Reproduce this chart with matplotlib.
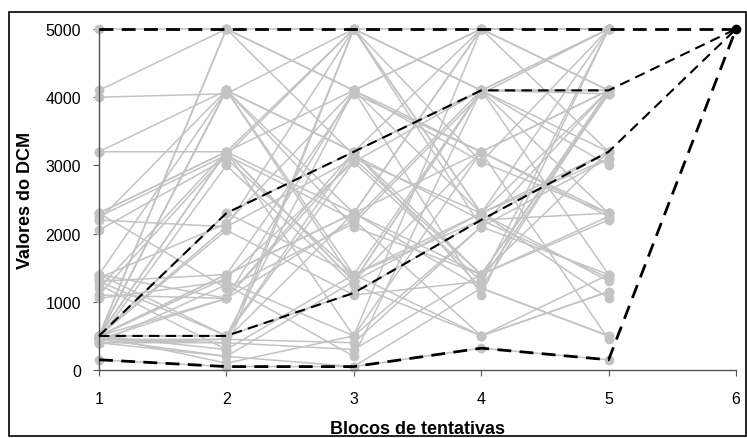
import numpy as np
import matplotlib
matplotlib.use('Agg')
import matplotlib.pyplot as plt
from matplotlib.patches import Rectangle

plt.rcParams['font.family'] = ['Liberation Sans', 'DejaVu Sans']

blocks = [1, 2, 3, 4, 5]
final_block = 6
final_value = 5000

# DCM values per participant, blocks 1..5
b1 = [4100, 4000, 3200, 3200, 2300, 2250, 2200, 2050, 1400, 1350, 1300, 1200, 1100, 1050,
      1400, 1250, 500, 500, 500, 500, 500, 500, 450, 450, 400, 500, 450, 400, 500, 500,
      500, 400, 2300, 500, 1400, 500, 450, 500,
      500, 500, 450, 2300, 1300, 500, 400, 1100, 500, 2200]
b2 = [5000, 4050, 3200, 4100, 3200, 3150, 2100, 3100, 4100, 2150, 1400, 3200, 1050, 1300,
      500, 300, 5000, 4100, 3200, 2100, 1400, 1050, 450, 400, 200, 100, 3000, 1250, 500,
      5000, 2050, 450, 1200, 300, 1050, 4100, 200, 1400,
      3200, 4100, 1050, 3200, 500, 2300, 400, 3150, 1350, 4100]
b3 = [4100, 5000, 4100, 3200, 2300, 5000, 3100, 1400, 3200, 4100, 2300, 5000, 2200, 500,
      3050, 1400, 4100, 2100, 1300, 5000, 4050, 3200, 2300, 300, 1300, 500, 1250, 200,
      4100, 3150, 1100, 400, 2150, 5000, 3100, 1400, 50, 2300,
      1300, 2300, 4100, 500, 3200, 1400, 5000, 2200, 3050, 1300]
b4 = [5000, 4100, 5000, 4100, 3200, 4100, 2300, 2200, 5000, 3050, 1400, 2300, 4100, 2100,
      1300, 500, 3200, 1400, 4100, 2300, 3200, 1200, 5000, 1400, 2300, 3200, 500, 4100,
      1100, 2200, 1300, 2100, 4050, 3050, 1400, 2300, 1200, 5000,
      4100, 1200, 2300, 5000, 1400, 4100, 2100, 500, 4100, 3200]
b5 = [5000, 4100, 5000, 5000, 4100, 4050, 3200, 2300, 4100, 5000, 2250, 3100, 4100, 1400,
      5000, 1150, 2300, 4100, 3000, 1300, 4100, 500, 5000, 2200, 1050, 450, 1400, 3200,
      5000, 1350, 4050, 3100, 5000, 2300, 3200, 4100, 500, 4100,
      2300, 4100, 5000, 3200, 4050, 1400, 4100, 1150, 5000, 2250]

# participants highlighted with dashed lines (reach the criterion in block 6)
crit_a = [5000, 5000, 5000, 5000, 5000]
crit_b = [150, 50, 50, 320, 150]
crit_c = [500, 2300, 3200, 4100, 4100]
crit_d = [500, 500, 1130, 2200, 3200]

gray = '#c3c3c3'

fig = plt.figure(figsize=(7.47, 4.39), dpi=100)
ax = fig.add_axes([99 / 747, 68 / 439, 637 / 747, 341 / 439])

gray_rows = list(zip(b1, b2, b3, b4, b5)) + [crit_a, crit_b, crit_c, crit_d]
for row in gray_rows:
    ax.plot(blocks, row, color=gray, lw=1.1, marker='o', ms=6, mec=gray, mfc=gray,
            zorder=2, clip_on=False)

for row, lw in [(crit_a, 2.0), (crit_b, 2.0), (crit_c, 1.5), (crit_d, 1.5)]:
    ax.plot(blocks + [final_block], list(row) + [final_value], color='black', lw=lw,
            ls=(0, (5, 3)), zorder=3, clip_on=False)
ax.plot([final_block], [final_value], 'o', color='black', ms=6, zorder=4, clip_on=False)

ax.set_xlim(1, 6)
ax.set_ylim(0, 5000)
ax.set_xticks([1, 2, 3, 4, 5, 6])
ax.set_yticks([0, 1000, 2000, 3000, 4000, 5000])
for s in ['top', 'right']:
    ax.spines[s].set_visible(False)
for s in ['left', 'bottom']:
    ax.spines[s].set_color('#555555')
    ax.spines[s].set_linewidth(1.0)
ax.tick_params(axis='y', direction='out', length=4, color='#555555', labelsize=11.5, pad=9)
ax.tick_params(axis='x', direction='out', length=4, color='#555555', labelsize=11.5, pad=11)

ax.set_xlabel('Blocos de tentativas', fontsize=13, fontweight='bold', labelpad=10)
ax.set_ylabel('Valores do DCM', fontsize=13, fontweight='bold', labelpad=8)

fig.patches.append(Rectangle((9 / 747, 2 / 439), 737 / 747, 424 / 439, fill=False,
                             ec='black', lw=1.2, transform=fig.transFigure))

fig.savefig('out.png', dpi=100)
